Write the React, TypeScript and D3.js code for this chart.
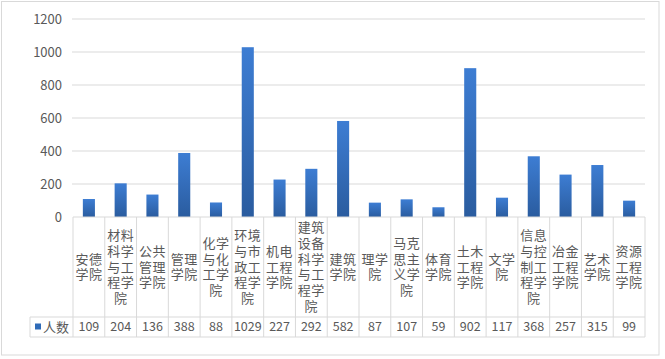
import React from "react";
import * as d3 from "d3";

const categories = [
  "安德学院", "材料科学与工程学院", "公共管理学院", "管理学院", "化学与化工学院",
  "环境与市政工程学院", "机电工程学院", "建筑设备科学与工程学院", "建筑学院", "理学院",
  "马克思主义学院", "体育学院", "土木工程学院", "文学院", "信息与控制工程学院",
  "冶金工程学院", "艺术学院", "资源工程学院",
];
const values = [109, 204, 136, 388, 88, 1029, 227, 292, 582, 87, 107, 59, 902, 117, 368, 257, 315, 99];
const yTicks = [0, 200, 400, 600, 800, 1000, 1200];
const seriesName = "人数";

const W = 665, H = 359;
const left = 73, right = 645, top = 19, base = 217;
const catBottom = 317, numBottom = 337, legendLeft = 30;
const grid = "#d9d9d9";
const textColor = "#595959";
const font = "'Noto Sans CJK SC', 'Noto Sans', sans-serif";

function chunk(s: string, n: number) {
  const out: string[] = [];
  for (let i = 0; i < s.length; i += n) out.push(s.slice(i, i + n));
  return out;
}

export default function App() {
  const x = d3.scaleBand<string>().domain(categories).range([left, right]).padding(0);
  const y = d3.scaleLinear().domain([0, 1200]).range([base, top]);
  const bw = x.bandwidth();
  const barW = bw * 0.38;
  const lineH = 15.8;
  const catMid = (base + catBottom) / 2;
  return (
    <svg width={W} height={H} style={{ position: "absolute", left: 0, top: 0, background: "#fff" }}>
      <defs>
        <linearGradient id="barGrad" x1="0" y1="0" x2="0" y2="1">
          <stop offset="0" stopColor="#3d7dd3" />
          <stop offset="1" stopColor="#2a5c9f" />
        </linearGradient>
      </defs>
      <rect x={1.5} y={1.5} width={657.5} height={353.5} fill="#fff" stroke={grid} />
      {yTicks.map((t) => (
        <g key={t}>
          {t > 0 && <line x1={left - 1} x2={right} y1={y(t)} y2={y(t)} stroke={grid} strokeWidth={1} />}
          <text x={62} y={y(t)} dy="0.35em" textAnchor="end" fontSize={13} fill={textColor} fontFamily={font}>
            {t}
          </text>
        </g>
      ))}
      {categories.map((c, i) => (
        <rect
          key={c}
          x={(x(c) as number) + bw / 2 - barW / 2}
          y={y(values[i])}
          width={barW}
          height={base - y(values[i])}
          fill="url(#barGrad)"
        />
      ))}
      <line x1={left} x2={right} y1={base} y2={base} stroke={grid} />
      <line x1={legendLeft} x2={right} y1={catBottom} y2={catBottom} stroke={grid} />
      <line x1={legendLeft} x2={right} y1={numBottom} y2={numBottom} stroke={grid} />
      <line x1={legendLeft} x2={legendLeft} y1={catBottom} y2={numBottom} stroke={grid} />
      {categories.map((c) => (
        <line key={"v" + c} x1={x(c) as number} x2={x(c) as number} y1={base} y2={numBottom} stroke={grid} />
      ))}
      <line x1={right} x2={right} y1={base} y2={numBottom} stroke={grid} />
      {categories.map((c, i) => {
        const lines = chunk(c, 2);
        const cx = (x(c) as number) + bw / 2;
        const y0 = catMid - ((lines.length - 1) * lineH) / 2;
        return (
          <g key={"t" + c}>
            <text
              textAnchor="middle"
              fontSize={13}
              fill={textColor}
              fontFamily={font}
              letterSpacing={0.5}
            >
              {lines.map((l, j) => (
                <tspan key={j} x={cx} y={y0 + j * lineH} dy="0.35em">
                  {l}
                </tspan>
              ))}
            </text>
            <text
              x={cx}
              y={(catBottom + numBottom) / 2}
              dy="0.35em"
              textAnchor="middle"
              fontSize={12.5}
              fill={textColor}
              fontFamily={font}
            >
              {values[i]}
            </text>
          </g>
        );
      })}
      <rect x={35} y={323.5} width={6} height={6} fill="#2f6bb8" />
      <text x={43} y={(catBottom + numBottom) / 2} dy="0.35em" fontSize={13} fill={textColor} fontFamily={font}>
        {seriesName}
      </text>
    </svg>
  );
}
